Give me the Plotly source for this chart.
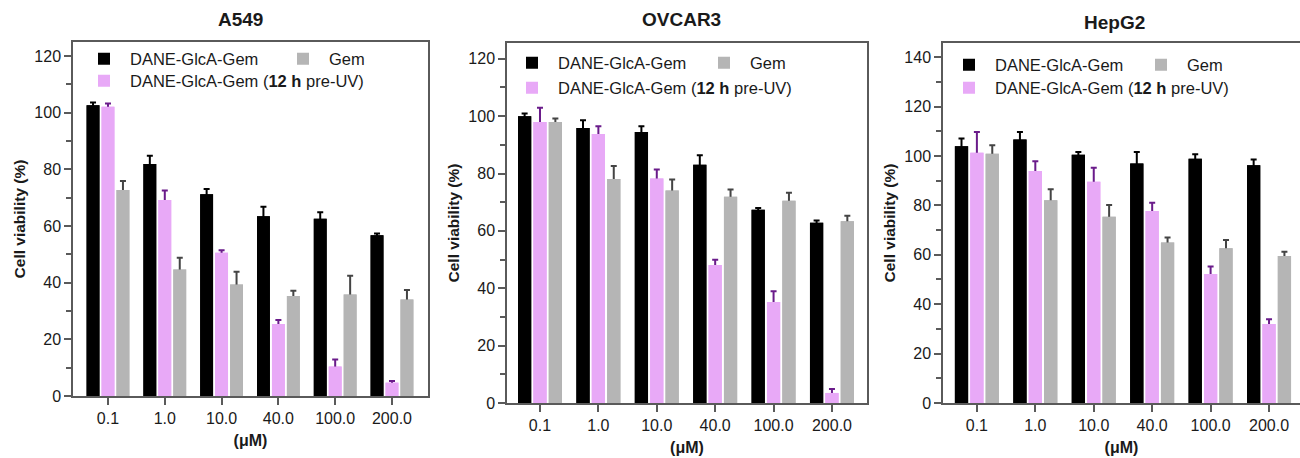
import plotly.graph_objects as go

# ---------------- data ----------------
concentrations = ["0.1", "1.0", "10.0", "40.0", "100.0", "200.0"]
panel_titles = ["A549", "OVCAR3", "HepG2"]
series_names = ["DANE-GlcA-Gem", "DANE-GlcA-Gem (<b>12 h</b> pre-UV)", "Gem"]

a549_dane = [102.7, 81.9, 71.2, 63.5, 62.6, 56.8]
a549_dane_err = [0.9, 2.9, 1.9, 3.3, 2.3, 0.6]
a549_uv = [102.1, 69.2, 50.6, 25.4, 10.4, 4.7]
a549_uv_err = [1.2, 3.4, 0.9, 1.4, 2.5, 0.6]
a549_gem = [72.7, 44.7, 39.4, 35.3, 35.8, 34.1]
a549_gem_err = [3.2, 4.1, 4.5, 1.9, 6.7, 3.3]

ovcar3_dane = [100.0, 95.9, 94.5, 83.1, 67.4, 62.8]
ovcar3_dane_err = [0.9, 2.7, 2.0, 3.3, 0.6, 0.8]
ovcar3_uv = [98.0, 93.8, 78.3, 48.1, 35.2, 3.5]
ovcar3_uv_err = [4.9, 2.7, 3.1, 1.8, 3.8, 1.4]
ovcar3_gem = [98.0, 78.1, 74.1, 71.9, 70.5, 63.4]
ovcar3_gem_err = [1.2, 4.5, 3.8, 2.5, 2.8, 1.9]

hepg2_dane = [103.9, 106.6, 100.5, 96.9, 98.9, 96.2]
hepg2_dane_err = [3.1, 3.1, 1.1, 4.7, 1.8, 2.3]
hepg2_uv = [101.3, 93.9, 89.5, 77.7, 52.2, 32.0]
hepg2_uv_err = [8.4, 3.9, 5.7, 3.3, 3.0, 1.9]
hepg2_gem = [100.9, 82.1, 75.4, 65.0, 62.6, 59.5]
hepg2_gem_err = [3.4, 4.4, 4.7, 2.0, 3.4, 1.7]

panel_data = [
    [(a549_dane, a549_dane_err), (a549_uv, a549_uv_err), (a549_gem, a549_gem_err)],
    [(ovcar3_dane, ovcar3_dane_err), (ovcar3_uv, ovcar3_uv_err), (ovcar3_gem, ovcar3_gem_err)],
    [(hepg2_dane, hepg2_dane_err), (hepg2_uv, hepg2_uv_err), (hepg2_gem, hepg2_gem_err)],
]

# ---------------- style ----------------
W, H = 1300, 458
FONT = "Liberation Sans, Arial, Helvetica, sans-serif"
bar_colors = ["#000000", "#E8A9F7", "#B5B5B5"]
err_colors = ["#000000", "#6A1B8A", "#444444"]
axis_color = "#5a5a5a"
text_color = "#1a1a1a"
LEG_ITEMW = 42  # symbol centre sits (LEG_ITEMW+10)/2 px from legend left

# pixel geometry of each panel: (left, right, top, bottom)
boxes = [(73, 428, 42, 396), (507, 867, 43, 403), (943, 1300, 43, 403)]
x_ranges = [[-0.616, 5.634], [-0.565, 5.6], [-0.58, 5.53]]
y_ranges = [[0, 125], [0, 125.5], [0, 145.7]]
title_pos = [(240, 20), (681, 20), (1114, 22)]
# legend symbol centres (x, y) for black, pink, grey
legend_pos = [
    [(104, 59), (104, 81), (303, 59)],
    [(532, 63), (532, 88), (724, 63)],
    [(969, 65), (969, 88), (1161, 65)],
]

fig = go.Figure()
layout = dict(
    width=W, height=H,
    margin=dict(l=0, r=0, t=0, b=0),
    paper_bgcolor="white", plot_bgcolor="white",
    barmode="group", bargap=0.21, bargroupgap=0.14,
    font=dict(family=FONT, size=16, color=text_color),
    annotations=[],
)

for p in range(3):
    l, r, t, b = boxes[p]
    xa = "xaxis" if p == 0 else f"xaxis{p+1}"
    ya = "yaxis" if p == 0 else f"yaxis{p+1}"
    xref = "x" if p == 0 else f"x{p+1}"
    yref = "y" if p == 0 else f"y{p+1}"
    for s in range(3):
        vals, errs = panel_data[p][s]
        leg_id = "legend" if p * 3 + s == 0 else f"legend{p*3+s+1}"
        # bar carrying the (upper) error bar
        fig.add_trace(go.Bar(
            x=concentrations, y=vals, name=series_names[s],
            marker=dict(color=bar_colors[s], line=dict(width=0)),
            error_y=dict(type="data", array=errs,
                         arrayminus=[min(1.0, v * 0.5) for v in vals],
                         symmetric=False, color=err_colors[s], thickness=2, width=3),
            offsetgroup=f"g{s}",
            xaxis=xref, yaxis=yref, legend=leg_id, showlegend=True,
        ))
        # same bar drawn again on top, hiding the lower part of the error bar
        fig.add_trace(go.Bar(
            x=concentrations, y=vals, name=series_names[s],
            marker=dict(color=bar_colors[s], line=dict(width=0)),
            offsetgroup=f"g{s}",
            xaxis=xref, yaxis=yref, legend=leg_id, showlegend=False,
            hoverinfo="skip",
        ))
        cx, cy = legend_pos[p][s]
        layout[leg_id] = dict(
            x=(cx - (LEG_ITEMW + 10) / 2) / W, y=1 - cy / H, xref="paper", yref="paper",
            xanchor="left", yanchor="middle", orientation="h", itemwidth=LEG_ITEMW,
            bgcolor="rgba(0,0,0,0)", borderwidth=0,
            font=dict(family=FONT, size=16.5, color=text_color),
        )
    layout[xa] = dict(
        domain=[l / W, r / W], anchor=yref, type="category",
        range=x_ranges[p], showline=True, linecolor=axis_color, linewidth=1.5,
        mirror=True, ticks="outside", ticklen=7, tickwidth=1.5, tickcolor=axis_color,
        showgrid=False, zeroline=False,
        tickfont=dict(family=FONT, size=16, color=text_color),
        title=dict(text="<b>(μM)</b>", font=dict(family=FONT, size=16, color=text_color), standoff=9),
        automargin=False,
    )
    layout[ya] = dict(
        domain=[(H - b) / H, (H - t) / H], anchor=xref,
        range=y_ranges[p], dtick=20, showline=True, linecolor=axis_color, linewidth=1.5,
        mirror=(p != 2), ticks="outside", ticklen=7, tickwidth=1.5, tickcolor=axis_color,
        minor=dict(dtick=10, ticks="outside", ticklen=5, tickwidth=1.5, tickcolor=axis_color),
        showgrid=False, zeroline=False,
        tickfont=dict(family=FONT, size=16, color=text_color),
        title=dict(text="<b>Cell viability (%)</b>", font=dict(family=FONT, size=15.5, color=text_color), standoff=5),
        automargin=False,
    )
    tx, ty = title_pos[p]
    layout["annotations"].append(dict(
        text=f"<b>{panel_titles[p]}</b>", x=tx / W, y=1 - ty / H, xref="paper", yref="paper",
        xanchor="center", yanchor="middle", showarrow=False,
        font=dict(family=FONT, size=19, color=text_color),
    ))

fig.update_layout(**layout)
fig.write_html(
    "out.html",
    config={"displayModeBar": False},
    post_script="document.body.style.margin='0';document.body.style.overflow='hidden';",
)
